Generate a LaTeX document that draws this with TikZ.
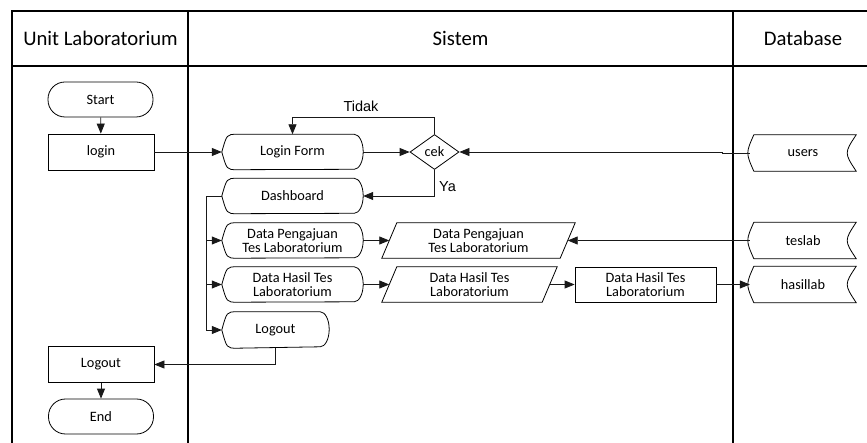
\documentclass[tikz,border=0pt]{standalone}
\usepackage{fontspec}
\setmainfont{Carlito}
\newfontfamily\arialfont{Liberation Sans}
\usetikzlibrary{arrows.meta,shapes.geometric}

\tikzset{
  lane/.style={line width=1.1pt, draw=black},
  conn/.style={line width=0.8pt, draw=black!90},
  flow/.style={conn, -{Triangle[length=10pt,width=8pt]}},
  base/.style={inner sep=0pt, align=center, font=\fontsize{14.3}{14.3}\selectfont},
  head/.style={font=\fontsize{20.7}{24}\selectfont},
  lbl/.style={font=\arialfont\fontsize{14.5}{16}\selectfont, inner sep=0pt},
  term/.style={base, draw, line width=0.8pt, rounded corners=17pt, minimum width=105pt, minimum height=35pt},
  proc/.style={base, draw, line width=0.8pt, minimum width=106pt, minimum height=36pt},
  % display shape: curved point on the left, rounded bulge on the right
  disp/.style={base, minimum height=35pt, append after command={\pgfextra{
      \draw[line width=0.8pt]
        ([xshift=15pt]\tikzlastnode.north west) -- ([xshift=-9pt]\tikzlastnode.north east)
        arc[start angle=90, end angle=-90, x radius=9pt, y radius=17.5pt]
        -- ([xshift=15pt]\tikzlastnode.south west)
        .. controls ([xshift=5pt]\tikzlastnode.south west) .. (\tikzlastnode.west)
        .. controls ([xshift=5pt]\tikzlastnode.north west) .. cycle;}}},
  % stored data shape
  stor/.style={base, minimum width=106pt, minimum height=36pt, append after command={\pgfextra{
      \draw[line width=0.8pt]
        ([xshift=4pt]\tikzlastnode.north west) -- (\tikzlastnode.north east)
        .. controls ([xshift=-12pt]\tikzlastnode.east) .. (\tikzlastnode.south east)
        -- ([xshift=4pt]\tikzlastnode.south west)
        .. controls ([xshift=-4pt]\tikzlastnode.west) .. cycle;}}},
  % data (parallelogram) shape
  para/.style={base, minimum height=35pt, append after command={\pgfextra{
      \draw[line width=0.8pt]
        ([xshift=15pt]\tikzlastnode.north west) -- (\tikzlastnode.north east)
        -- ([xshift=-15pt]\tikzlastnode.south east) -- (\tikzlastnode.south west) -- cycle;}}},
  dec/.style={base, diamond, draw, line width=0.8pt, minimum width=49pt, minimum height=35pt}
}

\begin{document}
\begin{tikzpicture}[x=1pt, y=-1pt]
\useasboundingbox (0,0) rectangle (867,443);

% swimlane frame
\draw[lane] (12,443) -- (12,11) -- (867,11);
\draw[lane] (12,66) -- (867,66);
\draw[lane] (188,11) -- (188,443);
\draw[lane] (733,11) -- (733,443);
\node[head] (h1) at (100.5,38.5) {Unit Laboratorium};
\node[head] (h2) at (460.5,38.5) {Sistem};
\node[head] (h3) at (803,38.5) {Database};

% Unit Laboratorium lane
\node[term] (start) at (100.5,99.5) {Start};
\node[proc] (login) at (101,152) {login};
\node[proc] (logout) at (101,364.5) {Logout};
\node[term] (end) at (101,416.5) {End};

% Sistem lane
\node[disp, minimum width=141pt] (lform) at (292.5,152) {Login Form};
\node[dec] (cek) at (434.5,152) {cek};
\node[disp, minimum width=141pt] (dash) at (292.5,196) {Dashboard};
\node[disp, minimum width=141pt] (dpeng) at (292.5,240.5) {Data Pengajuan\\Tes Laboratorium};
\node[disp, minimum width=141pt] (dhasil) at (292.5,284.5) {Data Hasil Tes\\Laboratorium};
\node[disp, minimum width=107pt, minimum height=36pt] (dlout) at (275.5,330) {Logout};
\node[para, minimum width=193pt] (p1) at (478.5,240.5) {Data Pengajuan\\Tes Laboratorium};
\node[para, minimum width=175pt] (p2) at (469.5,284.5) {Data Hasil Tes\\Laboratorium};
\node[proc, minimum width=141pt, minimum height=35pt] (rhasil) at (645.5,284.5) {Data Hasil Tes\\Laboratorium};

% Database lane
\node[stor] (users) at (803,153) {users};
\node[stor] (teslab) at (803,240.5) {teslab};
\node[stor] (hasillab) at (803,284.5) {hasillab};

% helper points on the slanted sides and the branch line
\coordinate (p1in) at ([xshift=7.5pt]p1.west);
\coordinate (p1rt) at ([xshift=-7.5pt]p1.east);
\coordinate (p2in) at ([xshift=7.5pt]p2.west);
\coordinate (p2out) at ([xshift=-7.5pt]p2.east);
\coordinate (trunk) at ([xshift=-15pt]dash.west);
\coordinate (ujog) at ([xshift=-27pt]users.west);

% connectors
\draw[flow] (start) -- (login);
\draw[flow] (login) -- (lform);
\draw[flow] (lform) -- (cek);
\draw[flow] (users.west) -- (ujog) |- (cek.east);
\draw[flow] (cek.north) -- ++(0,-17) -| (lform.north);
\node[lbl] (tidak) at (361,106) {Tidak};
\draw[flow] (cek.south) |- (dash.east);
\node[lbl, anchor=west] (ya) at (439,187) {Ya};

\draw[flow] (dash.west) -- (trunk) |- (dlout.west);
\draw[flow] (trunk |- dpeng.west) -- (dpeng.west);
\draw[flow] (trunk |- dhasil.west) -- (dhasil.west);

\draw[flow] (dpeng.east) -- (p1in);
\draw[flow] (teslab.west) -- (p1rt);
\draw[flow] (dhasil.east) -- (p2in);
\draw[flow] (p2out) -- (rhasil.west);
\draw[flow] (rhasil.east) -- (hasillab.west);

\draw[flow] (dlout.south) |- (logout.east);
\draw[flow] (logout) -- (end);
\end{tikzpicture}
\end{document}
